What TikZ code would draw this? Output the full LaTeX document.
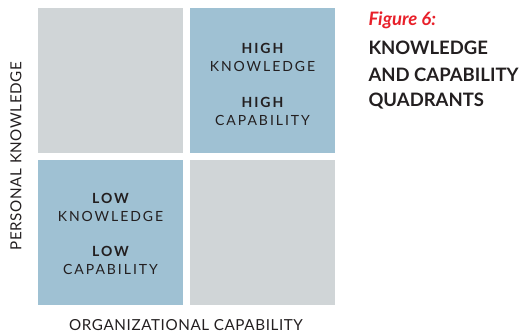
\documentclass[tikz,border=0pt]{standalone}
\usepackage{fontspec}
\setmainfont{Lato}
\newfontfamily\quadfont{Lato}[LetterSpace=14]
\newfontfamily\axisfont{Lato}[LetterSpace=4]
\definecolor{qgray}{HTML}{D0D5D7}
\definecolor{qblue}{HTML}{9FC1D3}
\definecolor{tred}{HTML}{E8202A}
\definecolor{tdark}{HTML}{231F20}
\tikzset{
  quad/.style={draw=none, inner sep=0pt, minimum width=145pt, minimum height=145pt},
  qtext/.style={text=tdark, align=center, font=\quadfont\fontsize{14}{18}\selectfont},
  axis/.style={text=tdark, font=\axisfont\fontsize{15.2}{16}\selectfont},
  ttl/.style={text=tdark, anchor=west, font=\fontsize{18.5}{20}\selectfont\bfseries}
}
\begin{document}
\begin{tikzpicture}[x=1pt,y=-1pt]
\useasboundingbox (0,0) rectangle (523,336);
\node[quad, fill=qgray] (tl) at (110.5,80.5) {};
\node[quad, fill=qblue] (tr) at (262.5,80.5) {};
\node[quad, fill=qblue] (bl) at (110.5,232.5) {};
\node[quad, fill=qgray] (br) at (262.5,232.5) {};
\node[qtext] (hk) at (262.5,57.5) {\bfseries HIGH\\KNOWLEDGE};
\node[qtext] (hc) at (262.5,111.5) {\bfseries HIGH\\CAPABILITY};
\node[qtext] (lk) at (110.5,207.5) {\bfseries LOW\\KNOWLEDGE};
\node[qtext] (lc) at (110.5,260.5) {\bfseries LOW\\CAPABILITY};
\node[axis, rotate=90] (py) at (16,156) {PERSONAL KNOWLEDGE};
\node[axis] (ox) at (186,325) {ORGANIZATIONAL CAPABILITY};
\node[anchor=west, text=tred, font=\fontsize{18.5}{20}\selectfont\bfseries\itshape] (fig) at (365,20) {Figure 6:};
\node[ttl] (t1) at (365,47.5) {KNOWLEDGE};
\node[ttl] (t2) at (365,74.5) {AND CAPABILITY};
\node[ttl] (t3) at (365,101) {QUADRANTS};
\end{tikzpicture}
\end{document}
